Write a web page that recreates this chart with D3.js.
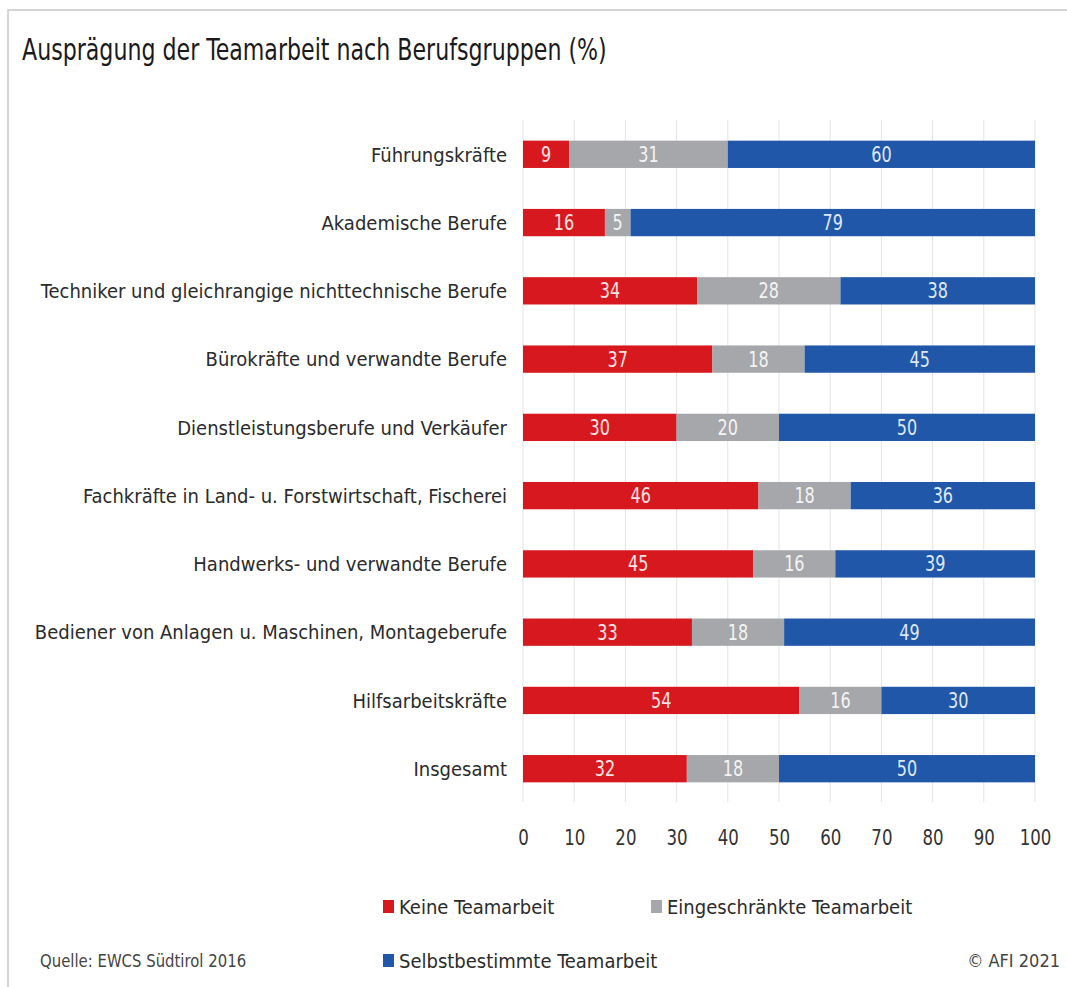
<!DOCTYPE html>
<html>
<head>
<meta charset="utf-8">
<script src="https://cdn.jsdelivr.net/npm/d3@7"></script>
<style>
  body { margin: 0; background: #fff; }
  svg text { font-family: "DejaVu Sans Condensed", "Liberation Sans Narrow", "Open Sans", sans-serif; }
</style>
</head>
<body>
<div id="chart"></div>
<script>
const categories = [
  'Führungskräfte',
  'Akademische Berufe',
  'Techniker und gleichrangige nichttechnische Berufe',
  'Bürokräfte und verwandte Berufe',
  'Dienstleistungsberufe und Verkäufer',
  'Fachkräfte in Land- u. Forstwirtschaft, Fischerei',
  'Handwerks- und verwandte Berufe',
  'Bediener von Anlagen u. Maschinen, Montageberufe',
  'Hilfsarbeitskräfte',
  'Insgesamt'
]
const keine          = [9, 16, 34, 37, 30, 46, 45, 33, 54, 32]
const eingeschraenkt = [31, 5, 28, 18, 20, 18, 16, 18, 16, 18]
const selbst         = [60, 79, 38, 45, 50, 36, 39, 49, 30, 50]
const seriesNames = ['Keine Teamarbeit', 'Eingeschränkte Teamarbeit', 'Selbstbestimmte Teamarbeit']
const xTicks = [0, 10, 20, 30, 40, 50, 60, 70, 80, 90, 100]

const W = 1067, H = 987
const COLORS = ['#d7191f', '#a5a7aa', '#2157a8']
const LABEL_COLORS = ['#fbe3e3', '#f4f4f4', '#dfe8f7']

const svg = d3.select('#chart').append('svg').attr('width', W).attr('height', H)

// frame
svg.append('path').attr('d', `M8,${H} V10 H${W}`)
  .attr('fill', 'none').attr('stroke', '#c8c8c8').attr('stroke-width', 1.5)

// title (font is narrower in the original, squeeze horizontally)
svg.append('text').attr('transform', 'translate(22,60) scale(0.82,1)')
  .style('font-size', '30px').attr('fill', '#1a1a1a')
  .text('Ausprägung der Teamarbeit nach Berufsgruppen (%)')

const x = d3.scaleLinear().domain([0, 100]).range([523, 1035])
const y = d3.scaleBand().domain(categories).range([127, 796]).paddingInner(0.6).paddingOuter(0.2)

// gridlines
svg.append('g').selectAll('line').data(xTicks).join('line')
  .attr('x1', d => x(d)).attr('x2', d => x(d))
  .attr('y1', 120).attr('y2', 802)
  .attr('stroke', '#e3e3e3').attr('stroke-width', 1)

const rows = categories.map((c, i) => ({ cat: c, vals: [keine[i], eingeschraenkt[i], selbst[i]] }))
const segs = []
rows.forEach(r => {
  let acc = 0
  r.vals.forEach((v, k) => { segs.push({ cat: r.cat, k, v, x0: acc, x1: acc + v }); acc += v })
})

svg.append('g').selectAll('rect').data(segs).join('rect')
  .attr('x', d => x(d.x0)).attr('width', d => x(d.x1) - x(d.x0))
  .attr('y', d => y(d.cat)).attr('height', y.bandwidth())
  .attr('fill', d => COLORS[d.k])

svg.append('g').selectAll('text').data(segs).join('text')
  .attr('transform', d => `translate(${(x(d.x0) + x(d.x1)) / 2},${y(d.cat) + y.bandwidth() / 2}) scale(0.85,1)`)
  .attr('dy', '0.36em').attr('text-anchor', 'middle')
  .style('font-size', '21px').attr('fill', d => LABEL_COLORS[d.k])
  .text(d => d.v)

// category labels
svg.append('g').selectAll('text').data(categories).join('text')
  .attr('x', 507).attr('y', d => y(d) + y.bandwidth() / 2)
  .attr('dy', '0.36em').attr('text-anchor', 'end')
  .style('font-size', '20px').attr('fill', '#2b2b2b')
  .text(d => d)

// x axis
const ax = svg.append('g').attr('transform', 'translate(0,830)')
  .call(d3.axisBottom(x).tickValues(xTicks).tickSize(0).tickPadding(0))
ax.select('.domain').remove()
ax.selectAll('text').style('font-size', '21px').attr('fill', '#333')
  .style('font-family', '"DejaVu Sans Condensed", "Liberation Sans Narrow", sans-serif')
  .attr('transform', 'scale(0.88,1)')
ax.selectAll('.tick').each(function () {
  // keep tick label centred after the squeeze
  const t = d3.select(this)
  t.select('text').attr('transform', 'scale(0.88,1)')
})

// legend
const legend = [
  { name: seriesNames[0], color: COLORS[0], x: 383, y: 907 },
  { name: seriesNames[1], color: COLORS[1], x: 651, y: 907 },
  { name: seriesNames[2], color: COLORS[2], x: 383, y: 961 }
]
const lg = svg.append('g').selectAll('g').data(legend).join('g')
  .attr('transform', d => `translate(${d.x},${d.y})`)
lg.append('rect').attr('x', 0).attr('y', -7).attr('width', 11).attr('height', 13).attr('fill', d => d.color)
lg.append('text').attr('x', 16).attr('dy', '0.36em')
  .style('font-size', '20px').attr('fill', '#2b2b2b').text(d => d.name)

svg.append('text').attr('transform', 'translate(40,961) scale(0.92,1)').attr('dy', '0.36em')
  .style('font-size', '18px').attr('fill', '#444').text('Quelle: EWCS Südtirol 2016')
svg.append('text').attr('x', 1060).attr('y', 961).attr('dy', '0.36em').attr('text-anchor', 'end')
  .style('font-size', '18px').attr('fill', '#444').text('© AFI 2021')
</script>
</body>
</html>
